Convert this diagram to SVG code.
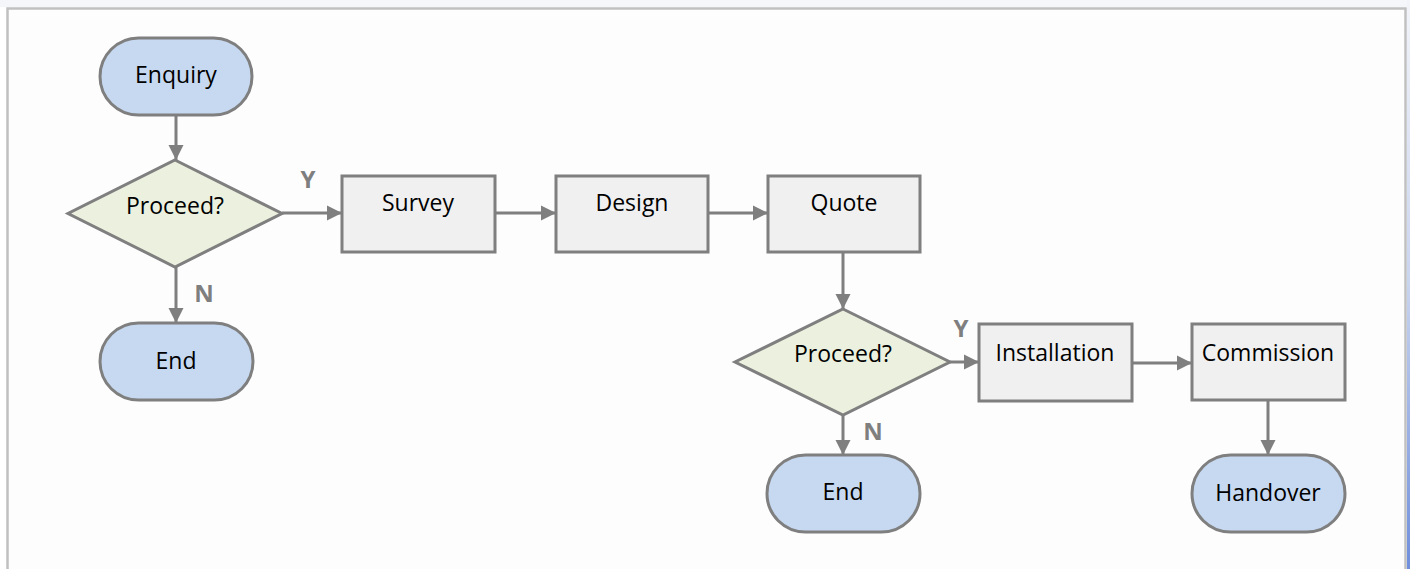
<svg xmlns="http://www.w3.org/2000/svg" width="1410" height="569" viewBox="0 0 1410 569">
  <defs>
    <marker id="arrow" markerUnits="userSpaceOnUse" markerWidth="16" markerHeight="16" viewBox="0 0 16 16" refX="15" refY="8" orient="auto">
      <path d="M0,0.5 L15,8 L0,15.5 Z" fill="#7f7f7f"/>
    </marker>
    <linearGradient id="edge" x1="0" y1="0" x2="0" y2="1">
      <stop offset="0" stop-color="#f2f4f9"/>
      <stop offset="0.5" stop-color="#c9d4ee"/>
      <stop offset="1" stop-color="#6f8fdc"/>
    </linearGradient>
    <style>
      .term { fill: #c6d9f1; stroke: #7f7f7f; stroke-width: 3; }
      .proc { fill: #f0f0f0; stroke: #7f7f7f; stroke-width: 3; }
      .dec  { fill: #ebf1de; stroke: #7f7f7f; stroke-width: 3; stroke-linejoin: miter; }
      .txt  { font-family: "Open Sans", "Liberation Sans", sans-serif; font-size: 23px; fill: #000; text-anchor: middle; }
      .lbl  { font-family: "Open Sans", "Liberation Sans", sans-serif; font-size: 24px; font-weight: bold; fill: #7f7f7f; text-anchor: middle; }
      .conn { fill: none; stroke: #7f7f7f; stroke-width: 3; marker-end: url(#arrow); }
    </style>
  </defs>

  <!-- page backdrop and frame -->
  <rect x="0" y="0" width="1410" height="569" fill="#ffffff"/>
  <rect x="0" y="0" width="1410" height="7" fill="#f5f6fa"/>
  <rect x="1407" y="0" width="3" height="569" fill="url(#edge)"/>
  <rect x="7.5" y="8.5" width="1398" height="580" fill="#fdfdfd" stroke="#c0c0c0" stroke-width="2.5"/>

  <!-- connectors -->
  <g id="connectors">
    <line class="conn" x1="176" y1="115" x2="176" y2="160"/>
    <line class="conn" x1="282" y1="213" x2="342" y2="213"/>
    <line class="conn" x1="176" y1="267" x2="176" y2="323"/>
    <line class="conn" x1="495" y1="213" x2="556" y2="213"/>
    <line class="conn" x1="708" y1="213" x2="768" y2="213"/>
    <line class="conn" x1="843" y1="252" x2="843" y2="309"/>
    <line class="conn" x1="950" y1="362" x2="979" y2="362"/>
    <line class="conn" x1="843" y1="415" x2="843" y2="455"/>
    <line class="conn" x1="1132" y1="363" x2="1192" y2="363"/>
    <line class="conn" x1="1268" y1="400" x2="1268" y2="455"/>
    <text class="lbl" x="308" y="188">Y</text>
    <text class="lbl" x="204" y="302">N</text>
    <text class="lbl" x="961" y="337">Y</text>
    <text class="lbl" x="873" y="440">N</text>
  </g>

  <g id="enquiry">
    <rect class="term" x="100" y="38" width="152" height="77" rx="38.5"/>
    <text class="txt" x="176" y="83">Enquiry</text>
  </g>
  <g id="proceed1">
    <polygon class="dec" points="175,160 282,213.5 175,267 68,213.5"/>
    <text class="txt" x="175" y="214">Proceed?</text>
  </g>
  <g id="end1">
    <rect class="term" x="100" y="323" width="153" height="77" rx="38.5"/>
    <text class="txt" x="176" y="369">End</text>
  </g>
  <g id="survey">
    <rect class="proc" x="342" y="176" width="153" height="76"/>
    <text class="txt" x="418" y="211">Survey</text>
  </g>
  <g id="design">
    <rect class="proc" x="556" y="176" width="152" height="76"/>
    <text class="txt" x="632" y="211">Design</text>
  </g>
  <g id="quote">
    <rect class="proc" x="768" y="176" width="152" height="76"/>
    <text class="txt" x="844" y="211">Quote</text>
  </g>
  <g id="proceed2">
    <polygon class="dec" points="843,309 950,362 843,415 735,362"/>
    <text class="txt" x="843" y="362">Proceed?</text>
  </g>
  <g id="end2">
    <rect class="term" x="767" y="455" width="153" height="77" rx="38.5"/>
    <text class="txt" x="843" y="500">End</text>
  </g>
  <g id="installation">
    <rect class="proc" x="979" y="324" width="153" height="77"/>
    <text class="txt" x="1055" y="361">Installation</text>
  </g>
  <g id="commission">
    <rect class="proc" x="1192" y="324" width="153" height="76"/>
    <text class="txt" x="1268" y="361">Commission</text>
  </g>
  <g id="handover">
    <rect class="term" x="1192" y="455" width="153" height="77" rx="38.5"/>
    <text class="txt" x="1268" y="501">Handover</text>
  </g>
</svg>
